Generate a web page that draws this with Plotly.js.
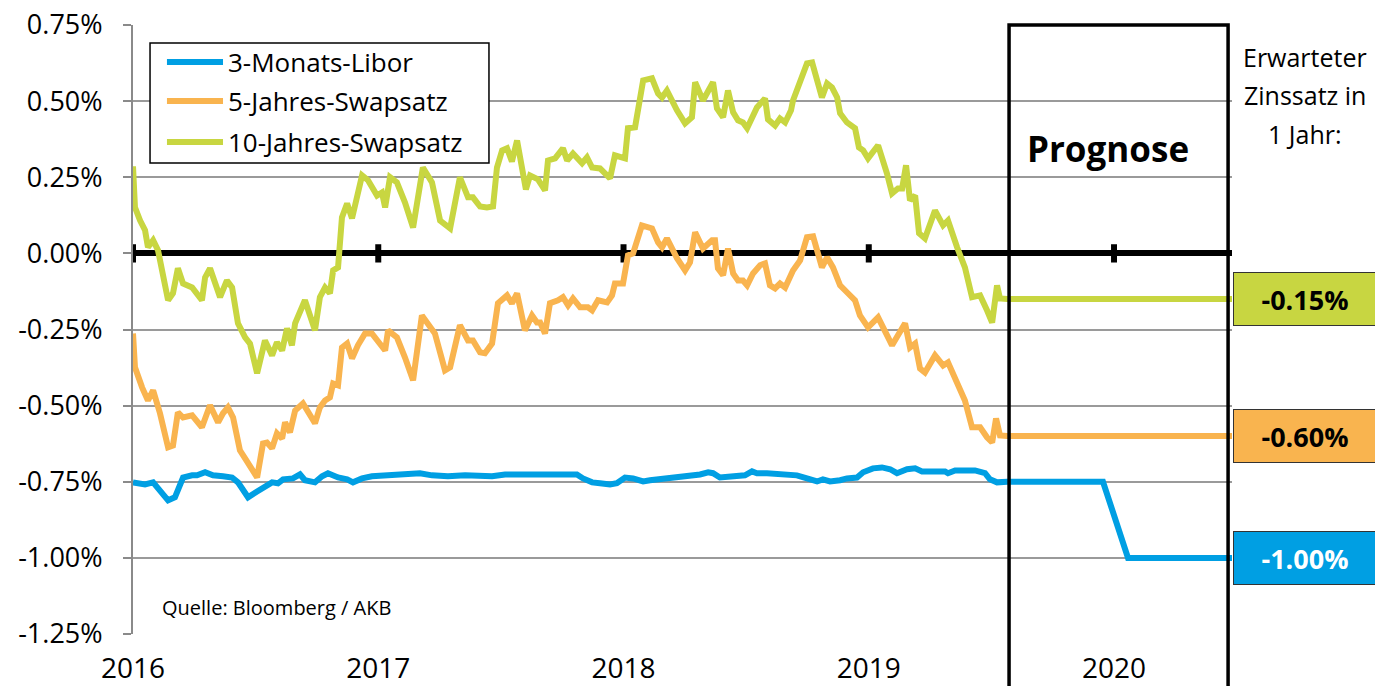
<!DOCTYPE html>
<html>
<head>
<meta charset="utf-8">
<script src="https://cdn.plot.ly/plotly-3.0.1.min.js"></script>
<style>
html,body{margin:0;padding:0;background:#fff;}
#chart{width:1375px;height:686px;}
</style>
</head>
<body>
<div id="chart"></div>
<script>
// ---------- DATA ----------
const seriesNames = ['3-Monats-Libor', '5-Jahres-Swapsatz', '10-Jahres-Swapsatz'];
const seriesColors = ['#009FE3', '#F9B44F', '#C8D641'];

const yTickVals = [0.75, 0.5, 0.25, 0, -0.25, -0.5, -0.75, -1, -1.25];
const yTickText = ['0.75%', '0.50%', '0.25%', '0.00%', '-0.25%', '-0.50%', '-0.75%', '-1.00%', '-1.25%'];
const xTickYears = [2016, 2017, 2018, 2019, 2020];
const xTickText = ['2016', '2017', '2018', '2019', '2020'];
const xRange = [2016, 2020.481];

const prognoseStart = 2019.572;
const prognoseEnd = 2020.465;

const liborDates = [
 2016.000,2016.049,2016.082,2016.102,2016.122,2016.143,2016.171,2016.204,2016.241,2016.261,
 2016.294,2016.326,2016.367,2016.404,2016.428,2016.469,2016.506,2016.538,2016.567,2016.591,
 2016.612,2016.652,2016.681,2016.701,2016.742,2016.771,2016.795,2016.836,2016.873,2016.897,
 2016.934,2016.974,2017.056,2017.138,2017.170,2017.219,2017.284,2017.354,2017.464,2017.517,
 2017.598,2017.810,2017.835,2017.872,2017.904,2017.945,2017.973,2018.006,2018.039,2018.080,
 2018.108,2018.149,2018.218,2018.271,2018.312,2018.345,2018.365,2018.393,2018.447,2018.495,
 2018.524,2018.544,2018.585,2018.638,2018.707,2018.748,2018.789,2018.813,2018.842,2018.883,
 2018.911,2018.952,2018.977,2019.017,2019.054,2019.087,2019.115,2019.156,2019.189,2019.217,
 2019.278,2019.311,2019.323,2019.352,2019.433,2019.474,2019.494,2019.523
];
const liborValues = [
 -0.752,-0.759,-0.752,-0.772,-0.785,-0.811,-0.801,-0.736,-0.729,-0.729,
 -0.719,-0.729,-0.732,-0.736,-0.752,-0.801,-0.782,-0.768,-0.752,-0.755,
 -0.742,-0.739,-0.726,-0.745,-0.752,-0.732,-0.722,-0.736,-0.742,-0.752,
 -0.739,-0.732,-0.729,-0.726,-0.722,-0.729,-0.732,-0.729,-0.732,-0.726,
 -0.726,-0.726,-0.739,-0.752,-0.755,-0.759,-0.755,-0.736,-0.739,-0.749,
 -0.745,-0.742,-0.736,-0.732,-0.726,-0.719,-0.722,-0.736,-0.732,-0.729,
 -0.716,-0.722,-0.722,-0.726,-0.729,-0.739,-0.749,-0.742,-0.749,-0.745,
 -0.739,-0.736,-0.719,-0.706,-0.703,-0.709,-0.722,-0.709,-0.706,-0.716,
 -0.719,-0.716,-0.722,-0.713,-0.713,-0.722,-0.742,-0.752
];

const swap5Dates = [
 2016.000,2016.008,2016.037,2016.061,2016.082,2016.110,2016.143,2016.163,2016.183,2016.204,
 2016.241,2016.281,2016.314,2016.347,2016.367,2016.387,2016.408,2016.436,2016.457,2016.477,
 2016.506,2016.530,2016.546,2016.567,2016.587,2016.608,2016.620,2016.640,2016.661,2016.693,
 2016.742,2016.762,2016.783,2016.803,2016.816,2016.836,2016.852,2016.873,2016.893,2016.917,
 2016.946,2016.974,2016.999,2017.028,2017.040,2017.076,2017.109,2017.142,2017.178,2017.211,
 2017.231,2017.272,2017.293,2017.333,2017.366,2017.386,2017.415,2017.435,2017.464,2017.488,
 2017.525,2017.545,2017.566,2017.598,2017.627,2017.647,2017.660,2017.680,2017.700,2017.733,
 2017.753,2017.774,2017.794,2017.823,2017.855,2017.872,2017.896,2017.933,2017.953,2017.965,
 2017.998,2018.018,2018.039,2018.075,2018.116,2018.141,2018.157,2018.177,2018.218,2018.251,
 2018.271,2018.292,2018.324,2018.361,2018.373,2018.385,2018.406,2018.426,2018.447,2018.467,
 2018.487,2018.504,2018.528,2018.557,2018.577,2018.597,2018.618,2018.638,2018.659,2018.691,
 2018.720,2018.748,2018.773,2018.809,2018.830,2018.854,2018.883,2018.915,2018.944,2018.964,
 2018.997,2019.038,2019.066,2019.095,2019.119,2019.148,2019.168,2019.189,2019.209,2019.229,
 2019.270,2019.303,2019.323,2019.360,2019.392,2019.421,2019.454,2019.482,2019.503,2019.519,
 2019.535
];
const swap5Values = [
 -0.263,-0.374,-0.440,-0.483,-0.450,-0.525,-0.637,-0.631,-0.522,-0.539,
 -0.532,-0.571,-0.499,-0.555,-0.525,-0.506,-0.539,-0.647,-0.673,-0.696,
 -0.736,-0.624,-0.621,-0.640,-0.591,-0.608,-0.555,-0.588,-0.516,-0.493,
 -0.558,-0.506,-0.483,-0.473,-0.427,-0.433,-0.309,-0.296,-0.345,-0.302,
 -0.263,-0.263,-0.286,-0.319,-0.253,-0.276,-0.342,-0.417,-0.204,-0.243,
 -0.263,-0.384,-0.374,-0.236,-0.286,-0.286,-0.325,-0.328,-0.296,-0.164,
 -0.138,-0.164,-0.131,-0.253,-0.204,-0.227,-0.227,-0.263,-0.164,-0.154,
 -0.144,-0.171,-0.148,-0.177,-0.177,-0.187,-0.154,-0.161,-0.138,-0.099,
 -0.099,-0.007,0.000,0.092,0.082,0.036,0.020,0.049,-0.016,-0.056,
 -0.030,0.069,0.016,0.043,0.043,-0.049,-0.072,0.016,-0.066,-0.089,
 -0.089,-0.105,-0.066,-0.039,-0.033,-0.105,-0.115,-0.099,-0.112,-0.056,
 -0.023,0.053,0.056,-0.046,-0.013,-0.046,-0.105,-0.131,-0.154,-0.204,
 -0.243,-0.210,-0.253,-0.302,-0.269,-0.230,-0.309,-0.296,-0.378,-0.391,
 -0.335,-0.368,-0.358,-0.424,-0.483,-0.571,-0.571,-0.604,-0.621,-0.542,
 -0.598
];

const swap10Dates = [
 2016.000,2016.008,2016.029,2016.049,2016.061,2016.082,2016.102,2016.122,2016.143,2016.163,
 2016.183,2016.204,2016.241,2016.281,2016.294,2016.314,2016.355,2016.383,2016.404,2016.428,
 2016.457,2016.477,2016.506,2016.538,2016.567,2016.587,2016.608,2016.628,2016.648,2016.661,
 2016.701,2016.742,2016.762,2016.783,2016.803,2016.816,2016.836,2016.852,2016.873,2016.893,
 2016.934,2016.958,2016.995,2017.015,2017.028,2017.048,2017.076,2017.109,2017.142,2017.182,
 2017.219,2017.252,2017.293,2017.333,2017.366,2017.386,2017.415,2017.443,2017.468,2017.484,
 2017.505,2017.525,2017.545,2017.566,2017.602,2017.619,2017.651,2017.680,2017.692,2017.721,
 2017.741,2017.753,2017.770,2017.794,2017.831,2017.851,2017.872,2017.904,2017.945,2017.965,
 2018.006,2018.018,2018.047,2018.059,2018.080,2018.116,2018.141,2018.157,2018.177,2018.218,
 2018.251,2018.279,2018.292,2018.324,2018.365,2018.381,2018.406,2018.426,2018.447,2018.467,
 2018.487,2018.504,2018.528,2018.544,2018.577,2018.589,2018.618,2018.638,2018.659,2018.683,
 2018.691,2018.720,2018.748,2018.769,2018.789,2018.809,2018.830,2018.850,2018.871,2018.883,
 2018.911,2018.944,2018.960,2018.977,2018.997,2019.038,2019.074,2019.095,2019.119,2019.136,
 2019.152,2019.168,2019.189,2019.205,2019.229,2019.270,2019.303,2019.323,2019.360,2019.392,
 2019.421,2019.454,2019.482,2019.503,2019.523,2019.535
];
const swap10Values = [
 0.286,0.151,0.108,0.076,0.020,0.043,0.010,-0.066,-0.154,-0.131,
 -0.049,-0.099,-0.112,-0.154,-0.079,-0.049,-0.144,-0.089,-0.112,-0.230,
 -0.276,-0.296,-0.394,-0.286,-0.335,-0.292,-0.319,-0.246,-0.302,-0.230,
 -0.154,-0.253,-0.144,-0.112,-0.131,-0.056,-0.046,0.118,0.164,0.115,
 0.256,0.240,0.190,0.200,0.151,0.250,0.233,0.167,0.085,0.282,
 0.233,0.108,0.082,0.250,0.184,0.184,0.154,0.151,0.154,0.282,
 0.338,0.345,0.302,0.371,0.210,0.256,0.243,0.207,0.305,0.312,
 0.338,0.345,0.305,0.328,0.296,0.315,0.282,0.279,0.246,0.322,
 0.312,0.411,0.414,0.470,0.568,0.575,0.525,0.512,0.535,0.470,
 0.427,0.447,0.562,0.502,0.562,0.476,0.447,0.535,0.463,0.437,
 0.430,0.411,0.447,0.479,0.509,0.440,0.420,0.443,0.430,0.470,
 0.502,0.558,0.624,0.627,0.568,0.512,0.558,0.545,0.512,0.460,
 0.430,0.411,0.348,0.338,0.312,0.355,0.263,0.197,0.213,0.213,
 0.289,0.174,0.190,0.066,0.049,0.141,0.092,0.108,0.020,-0.046,
 -0.144,-0.138,-0.187,-0.227,-0.105,-0.148
];

// Forecast ("Prognose") segment
const liborForecastDates = [2019.564, 2019.955, 2020.057, 2020.481];
const liborForecast = [-0.75, -0.75, -1.00, -1.00];
const swapForecastDates = [2019.564, 2020.481];
const swap5Forecast = [-0.60, -0.60];
const swap10Forecast = [-0.15, -0.15];

const boxTextColors = ['#FFFFFF', '#000000', '#000000'];
const sourceText = 'Quelle: Bloomberg / AKB';
const prognoseText = 'Prognose';
const expectedLines = ['Erwarteter', 'Zinssatz in', '1 Jahr:'];

// ---------- CHART ----------
const FONT = 'Open Sans, Noto Sans, Arial, sans-serif';

const histX = [liborDates, swap5Dates, swap10Dates];
const histY = [liborValues, swap5Values, swap10Values];
const fcX = [liborForecastDates, swapForecastDates, swapForecastDates];
const fcY = [liborForecast, swap5Forecast, swap10Forecast];

const traces = seriesNames.map((name, i) => ({
  type: 'scatter',
  mode: 'lines',
  name: name,
  x: histX[i].concat(fcX[i]),
  y: histY[i].concat(fcY[i]),
  line: {color: seriesColors[i], width: 6},
  hoverinfo: 'skip',
  showlegend: false
}));

const shapes = [];
xTickYears.forEach(yr => {
  shapes.push({type: 'line', xref: 'x', yref: 'y', x0: yr, x1: yr, y0: -0.03, y1: 0.03,
    line: {color: '#000', width: 6}, layer: 'between'});
});
shapes.push({type: 'rect', xref: 'x', yref: 'paper', x0: prognoseStart, x1: prognoseEnd, y0: -0.12, y1: 1.0,
  line: {color: '#000', width: 3.5}, fillcolor: 'rgba(0,0,0,0)', layer: 'above'});

// legend box (drawn as shapes + text, in paper coordinates)
const legendBox = {x0: 0.0155, x1: 0.3239, y0: 0.7734, y1: 0.9704};
const legendRowsY = [0.9392, 0.8752, 0.8079];
shapes.push({type: 'rect', xref: 'paper', yref: 'paper', x0: legendBox.x0, x1: legendBox.x1,
  y0: legendBox.y0, y1: legendBox.y1, line: {color: '#000', width: 1.5}, fillcolor: '#fff', layer: 'above'});

const annotations = [];
seriesNames.forEach((name, i) => {
  shapes.push({type: 'line', xref: 'paper', yref: 'paper', x0: 0.0309, x1: 0.0819,
    y0: legendRowsY[i], y1: legendRowsY[i], line: {color: seriesColors[i], width: 6}, layer: 'above'});
  annotations.push({xref: 'paper', yref: 'paper', x: 0.0846, y: legendRowsY[i], xanchor: 'left', yanchor: 'middle',
    text: name, showarrow: false, font: {family: FONT, size: 26, color: '#000'}});
});

annotations.push({xref: 'x', yref: 'y', x: (prognoseStart + prognoseEnd) / 2 - 0.045, y: 0.345,
  text: '<b>' + prognoseText + '</b>', showarrow: false,
  font: {family: FONT, size: 35, color: '#000'}});
const expY = [0.9475, 0.885, 0.8215];
expectedLines.forEach((t, i) => {
  annotations.push({xref: 'paper', yref: 'paper', x: 1.0664, y: expY[i], text: t, showarrow: false,
    xanchor: 'center', yanchor: 'middle', font: {family: FONT, size: 25, color: '#000'}});
});
const endVals = [liborForecast[liborForecast.length - 1], swap5Forecast[1], swap10Forecast[1]];
endVals.forEach((v, i) => {
  annotations.push({xref: 'paper', yref: 'y', x: 1.0009, y: v, xanchor: 'left', yanchor: 'middle',
    text: '<b>' + v.toFixed(2) + '%</b>', showarrow: false,
    bgcolor: seriesColors[i], bordercolor: '#333', borderwidth: 1, borderpad: 0,
    width: 142, height: 52, align: 'center', valign: 'middle',
    font: {family: FONT, size: 27, color: boxTextColors[i]}});
});
annotations.push({xref: 'paper', yref: 'paper', x: 0.0246, y: 0.043, xanchor: 'left', yanchor: 'middle',
  text: sourceText, showarrow: false, font: {family: FONT, size: 20, color: '#000'}});

const layout = {
  width: 1375, height: 686,
  margin: {l: 133, r: 143, t: 25, b: 52, pad: 0},
  paper_bgcolor: '#fff', plot_bgcolor: '#fff',
  font: {family: FONT, color: '#000', size: 24},
  showlegend: false,
  xaxis: {range: xRange, tickmode: 'array', tickvals: xTickYears, ticktext: xTickText,
    showgrid: false, zeroline: false, showline: false, ticks: '',
    tickfont: {family: FONT, size: 28, color: '#000'}, ticklabelstandoff: 15, fixedrange: true},
  yaxis: {range: [-1.25, 0.75], tickmode: 'array', tickvals: yTickVals, ticktext: yTickText,
    showgrid: true, gridcolor: '#9a9a9a', gridwidth: 2,
    zeroline: true, zerolinecolor: '#000', zerolinewidth: 6,
    showline: true, linecolor: '#8a8a8a', linewidth: 2,
    ticks: 'outside', ticklen: 8, tickwidth: 2, tickcolor: '#8a8a8a',
    tickfont: {family: FONT, size: 27, color: '#000'}, ticklabelstandoff: 15, fixedrange: true},
  shapes: shapes,
  annotations: annotations
};

Plotly.newPlot('chart', traces, layout, {staticPlot: true, displayModeBar: false});
</script>
</body>
</html>
